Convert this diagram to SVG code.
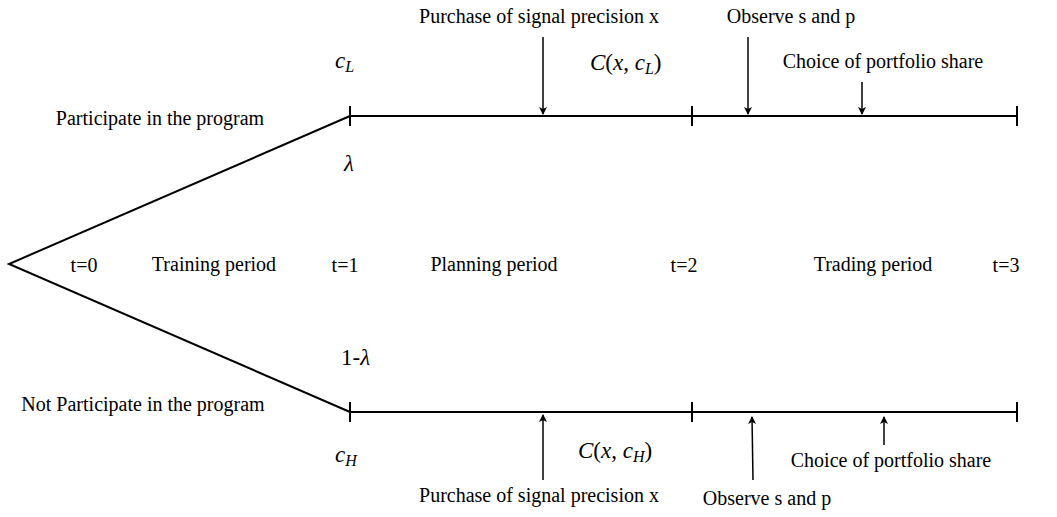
<svg xmlns="http://www.w3.org/2000/svg" width="1057" height="517" viewBox="0 0 1057 517">
<style>
.t{font-family:"Liberation Serif","Times New Roman",serif;font-size:20px;fill:#000;text-anchor:middle}
.m{font-family:"Liberation Serif","Times New Roman",serif;font-size:23px;fill:#000}
.i{font-style:italic}
.sub{font-size:16px;font-style:italic}
.ln{stroke:#000;stroke-width:2;fill:none}
.ar{stroke:#000;stroke-width:1.5;fill:none}
</style>
<defs>
<marker id="ah" markerWidth="8" markerHeight="10" refX="7" refY="4" orient="auto" markerUnits="userSpaceOnUse">
<path d="M0,0 L8,4 L0,8 L2,4 Z" fill="#000"/>
</marker>
</defs>
<rect width="1057" height="517" fill="#fff"/>
<g id="connectors">
<polyline class="ln" points="350,116 9,264 350,412"/>
<line class="ln" x1="350" y1="116" x2="1017" y2="116"/>
<line class="ln" x1="350" y1="412" x2="1017" y2="412"/>
<line class="ln" x1="350" y1="106" x2="350" y2="126"/>
<line class="ln" x1="692" y1="106" x2="692" y2="126"/>
<line class="ln" x1="1017" y1="106" x2="1017" y2="126"/>
<line class="ln" x1="350" y1="402" x2="350" y2="422"/>
<line class="ln" x1="692" y1="402" x2="692" y2="422"/>
<line class="ln" x1="1017" y1="402" x2="1017" y2="422"/>
<line class="ar" x1="543" y1="37" x2="543" y2="114" marker-end="url(#ah)"/>
<line class="ar" x1="748" y1="37" x2="748" y2="114" marker-end="url(#ah)"/>
<line class="ar" x1="862" y1="82" x2="862" y2="114" marker-end="url(#ah)"/>
<line class="ar" x1="543" y1="480" x2="543" y2="415" marker-end="url(#ah)"/>
<line class="ar" x1="753" y1="480" x2="752" y2="417" marker-end="url(#ah)"/>
<line class="ar" x1="884" y1="445" x2="884" y2="417" marker-end="url(#ah)"/>
</g>
<g id="labels-left">
<text class="t" x="160" y="125">Participate in the program</text>
<text class="t" x="143" y="411">Not Participate in the program</text>
<text class="t" x="84" y="272">t=0</text>
<text class="t" x="214" y="271">Training period</text>
<text class="t" x="345" y="272">t=1</text>
<text class="t" x="494" y="271">Planning period</text>
<text class="t" x="684" y="272">t=2</text>
<text class="t" x="873" y="271">Trading period</text>
<text class="t" x="1006" y="272">t=3</text>
</g>
<g id="top-branch">
<text class="m i" x="335" y="68">c<tspan class="sub" dy="4">L</tspan></text>
<text class="m i" x="344" y="171">λ</text>
<text class="m" x="590" y="70"><tspan class="i">C</tspan>(<tspan class="i">x</tspan>, <tspan class="i">c</tspan><tspan class="sub" dy="4">L</tspan><tspan dy="-4">)</tspan></text>
<text class="t" x="539" y="23">Purchase of signal precision x</text>
<text class="t" x="791" y="23">Observe s and p</text>
<text class="t" x="883" y="68">Choice of portfolio share</text>
</g>
<g id="bottom-branch">
<text class="m" x="341" y="365">1-<tspan class="i">λ</tspan></text>
<text class="m i" x="335" y="462">c<tspan class="sub" dy="4">H</tspan></text>
<text class="m" x="578" y="458"><tspan class="i">C</tspan>(<tspan class="i">x</tspan>, <tspan class="i">c</tspan><tspan class="sub" dy="4">H</tspan><tspan dy="-4">)</tspan></text>
<text class="t" x="539" y="502">Purchase of signal precision x</text>
<text class="t" x="767" y="505">Observe s and p</text>
<text class="t" x="891" y="467">Choice of portfolio share</text>
</g>
</svg>
